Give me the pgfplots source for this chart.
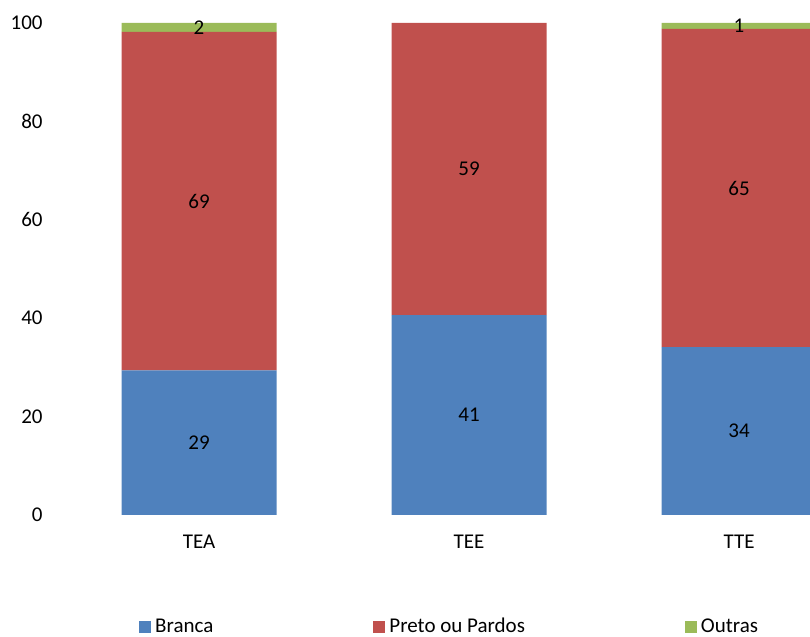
\documentclass[border=0pt]{standalone}
\usepackage{pgfplots}
\pgfplotsset{compat=1.18}
\usepackage{fontspec}
\setmainfont{Carlito}
\definecolor{cB}{HTML}{4F81BD}
\definecolor{cR}{HTML}{C0504D}
\definecolor{cG}{HTML}{9BBB59}
\begin{document}
\fontsize{10.5pt}{12pt}\selectfont
\begin{tikzpicture}
\begin{axis}[
  at={(0,0)}, anchor=south west,
  scale only axis,
  x=135pt, y=2.46pt,
  xmin=-0.552, xmax=2.263, ymin=0, ymax=100,
  ybar stacked, bar width=77.5pt,
  xtick={0,1,2}, xticklabels={TEA,TEE,TTE},
  ytick={0,20,...,100},
  axis line style={draw=none}, major tick length=0pt,
  /pgf/number format/assume math mode=true,
  ticklabel style={font=\fontsize{10.5pt}{12pt}\selectfont, text=black},
  xticklabel style={yshift=-6.5pt},
  nodes near coords,
  nodes near coords style={font=\fontsize{10.5pt}{12pt}\selectfont, text=black,
    /pgf/number format/fixed, /pgf/number format/precision=0},
  legend columns=3,
  legend style={draw=none, fill=none, font=\fontsize{10.5pt}{12pt}\selectfont,
    at={(axis description cs:0.109,-0.2276)}, anchor=west,
    /tikz/every even column/.append style={column sep=78pt}},
  legend image code/.code={\fill[#1] (-1.5pt,-3pt) rectangle (4.5pt,3pt);},
]
\addplot[fill=cB, draw=none] coordinates {(0,29.4) (1,40.6) (2,34.1)};
\addplot[fill=cR, draw=none] coordinates {(0,68.8) (1,59.4) (2,64.7)};
\addplot[fill=cG, draw=none, point meta=explicit symbolic] coordinates {(0,1.8) [2] (1,0) [] (2,1.2) [1]};
\legend{Branca, Preto ou Pardos, Outras}
\end{axis}
\pgfresetboundingbox
\useasboundingbox (-25pt,-61pt) rectangle (380pt,257.5pt);
\end{tikzpicture}
\end{document}
